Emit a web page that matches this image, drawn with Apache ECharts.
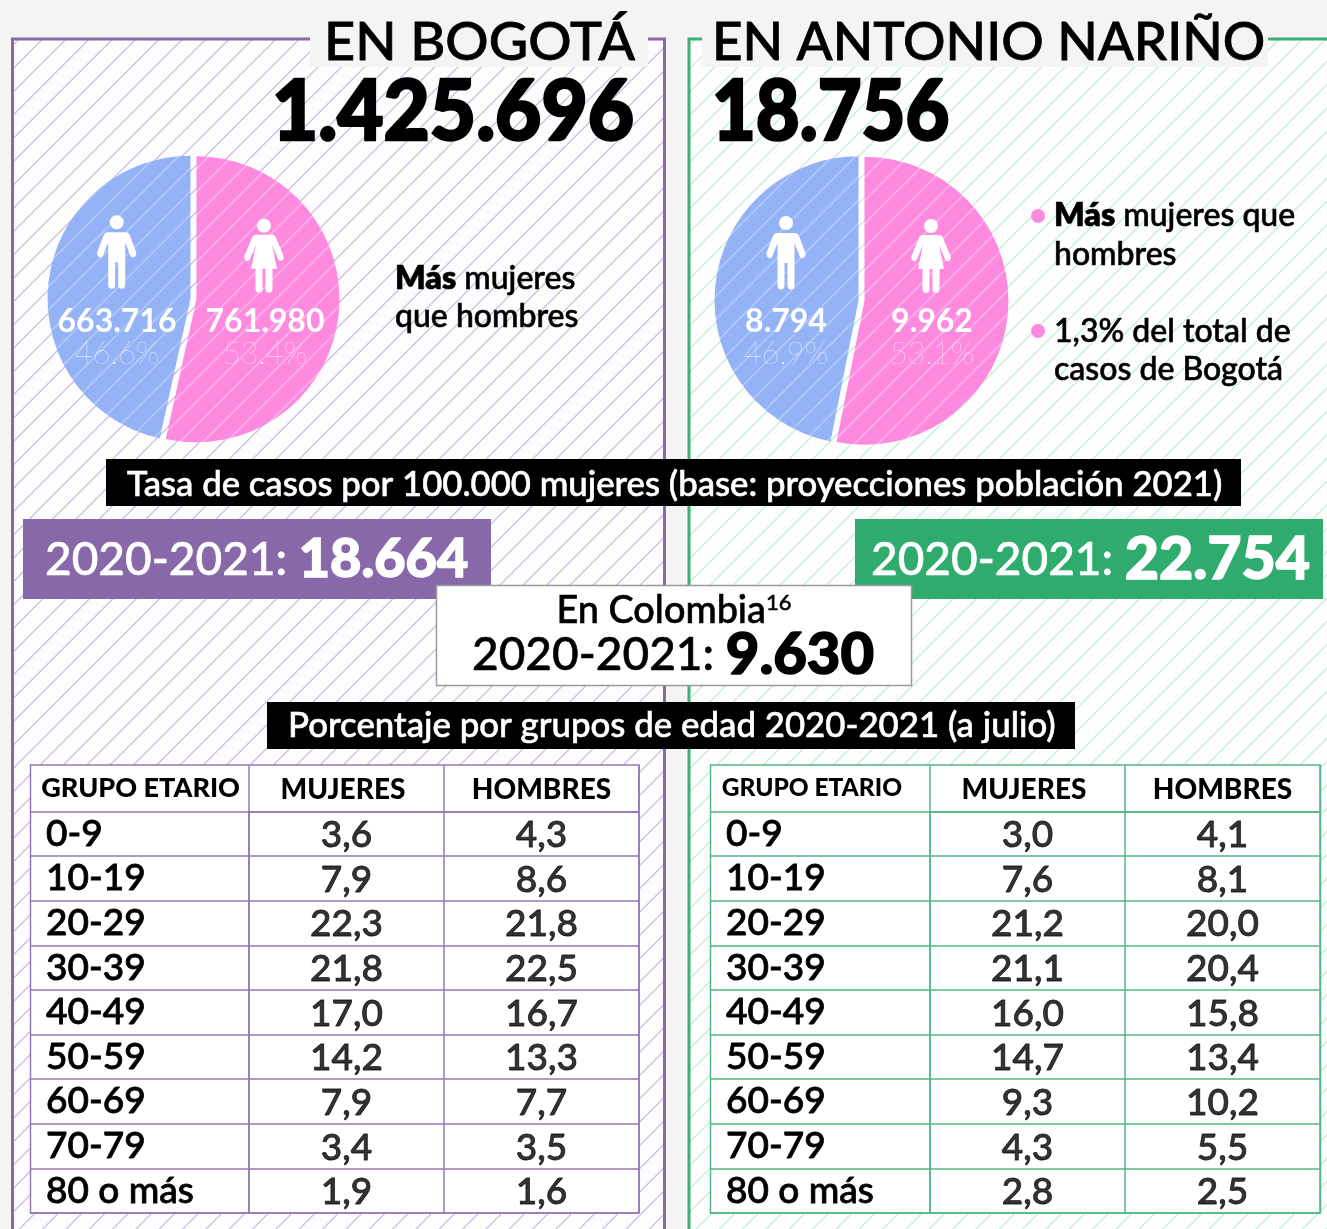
<!DOCTYPE html>
<html>
<head>
<meta charset="utf-8">
<style>html,body{margin:0;padding:0;background:#f4f4f3}#chart{width:1327px;height:1229px}</style>
<script src="https://cdn.jsdelivr.net/npm/echarts@6/dist/echarts.min.js"></script>
</head>
<body>
<div id="chart"></div>
<script>
// datos
const edades = ['0-9', '10-19', '20-29', '30-39', '40-49', '50-59', '60-69', '70-79', '80 o más'];
const columnas = ['MUJERES', 'HOMBRES'];
const bogotaMujeres = [3.6, 7.9, 22.3, 21.8, 17.0, 14.2, 7.9, 3.4, 1.9];
const bogotaHombres = [4.3, 8.6, 21.8, 22.5, 16.7, 13.3, 7.7, 3.5, 1.6];
const narinoMujeres = [3.0, 7.6, 21.2, 21.1, 16.0, 14.7, 9.3, 4.3, 2.8];
const narinoHombres = [4.1, 8.1, 20.0, 20.4, 15.8, 13.4, 10.2, 5.5, 2.5];
const casosBogota = [761980, 663716];   // mujeres, hombres
const casosNarino = [9962, 8794];
const pctBogota = [53.4, 46.6];
const pctNarino = [53.1, 46.9];
const totalBogota = 1425696;
const totalNarino = 18756;
const tasaBogota = 18664;
const tasaNarino = 22754;
const tasaColombia = 9630;

const BLUE = '#94b3f7', PINK = '#fe8ae0', PURPLE = '#8769a9', GREEN = '#2fab6e';
const LATO = 'Lato';

const miles = v => String(v).replace(/\B(?=(\d{3})+$)/g, '.');
const coma = v => v.toFixed(1).replace('.', ',');

// trama diagonal, se repite cada 70px con 3 lineas
function trama(bg, line, w) {
  const c = document.createElement('canvas');
  c.width = c.height = 70;
  const g = c.getContext('2d');
  if (bg) { g.fillStyle = bg; g.fillRect(0, 0, 70, 70); }
  g.strokeStyle = line;
  g.lineWidth = w;
  for (let k = -3; k < 7; k++) {
    const s = 11.7 + k * 70 / 3;
    g.beginPath();
    g.moveTo(-5, s + 5);
    g.lineTo(s + 5, -5);
    g.stroke();
  }
  return { image: c, repeat: 'repeat' };
}

echarts.graphic.registerShape('hombre', echarts.graphic.extendPath('M-7 0a7 7 0 1 0 14 0a7 7 0 1 0-14 0ZM-9 10L9 10Q12 10 13 13L19.5 30Q20 34 17 35Q14.5 36 13.5 33L8.5 20L8.5 62Q8.5 66.5 5 66.5Q1.5 66.5 1.5 62L1.5 40L-1.5 40L-1.5 62Q-1.5 66.5-5 66.5Q-8.5 66.5-8.5 62L-8.5 20L-13.5 33Q-14.5 36-17 35Q-20 34-19.5 30L-13 13Q-12 10-9 10Z'));
echarts.graphic.registerShape('mujer', echarts.graphic.extendPath('M-7 0a7 7 0 1 0 14 0a7 7 0 1 0-14 0ZM-8 9L8 9Q11 9 12 12L19.5 30Q20.5 34 17.5 35Q15 36 14 33L8 19L13 43L8.5 43L8.5 63Q8.5 67 5 67Q1.5 67 1.5 63L1.5 43L-1.5 43L-1.5 63Q-1.5 67-5 67Q-8.5 67-8.5 63L-8.5 43L-13 43L-8 19L-14 33Q-15 36-17.5 35Q-20.5 34-19.5 30L-12 12Q-11 9-8 9Z'));

function txt(x, y, text, size, o) {
  o = o || {};
  const fill = o.fill || '#000';
  return {
    type: 'text', x: x, y: y, z: o.z || 20, scaleX: o.sx || 1, silent: true,
    style: {
      text: text, fontFamily: LATO, fontSize: size, fontWeight: o.w || 500,
      fill: fill, align: o.align || 'left', verticalAlign: 'middle',
      stroke: o.lw === 0 ? null : fill, lineWidth: o.lw === undefined ? 0.6 : o.lw,
      rich: o.rich
    }
  };
}
function caja(x, y, w, h, fill, z, stroke) {
  return {
    type: 'rect', z: z, silent: true, shape: { x: x, y: y, width: w, height: h },
    style: { fill: fill, stroke: stroke || null, lineWidth: stroke ? 1.5 : 0 }
  };
}
function icono(tipo, x, y) {
  return { type: tipo, x: x, y: y, z: 15, silent: true, style: { fill: '#fff' } };
}
function rica(size, peso, fill, borde) {
  return { fontFamily: LATO, fontSize: size, fontWeight: peso, fill: fill, stroke: fill, lineWidth: borde };
}
function tasa(x, y, valor, sizeB) {
  return txt(x, y, '{a|2020-2021:} {b|' + miles(valor) + '}', 46, {
    z: 12, fill: '#fff',
    rich: { a: rica(46, 500, '#fff', 0.6), b: rica(sizeB, 900, '#fff', 1.5) }
  });
}

const graphics = [
  // paneles
  caja(12.5, 39, 652, 1240, '#fdfdfe', -6),
  caja(12.5, 39, 652, 1240, trama(null, '#c9b9e0', 1.2), -5),
  caja(689, 39, 700, 1240, '#fdfefd', -6),
  caja(689, 39, 700, 1240, trama(null, '#c0edd3', 1.2), -5),
  { type: 'rect', z: -4, silent: true, shape: { x: 12.5, y: 39, width: 652, height: 1240 }, style: { fill: null, stroke: PURPLE, lineWidth: 3 } },
  { type: 'rect', z: -4, silent: true, shape: { x: 689, y: 39, width: 700, height: 1240 }, style: { fill: null, stroke: '#3fae78', lineWidth: 3 } },
  caja(310, 15, 338, 52, '#f4f4f3', -3),
  caja(702, 15, 566, 52, '#f4f4f3', -3),
  // fondo de tablas
  caja(30.5, 765, 608.5, 448, '#fff', -2, '#9478b5'),
  caja(710.5, 765, 610, 448, '#fff', -2, '#52b783'),
  // titulos
  txt(324, 43, 'EN BOGOTÁ', 53, { sx: 1.02, lw: 0.8 }),
  txt(712, 43, 'EN ANTONIO NARIÑO', 53, { lw: 0.8 }),
  txt(272, 113, miles(totalBogota), 84, { w: 900, sx: 0.95, lw: 2.5 }),
  txt(712, 113, miles(totalNarino), 84, { w: 900, sx: 0.9, lw: 2.5 }),
  // iconos
  icono('hombre', 116.7, 222.3), icono('mujer', 264, 225.7),
  icono('hombre', 786, 223), icono('mujer', 931, 226),
  // texto lateral
  txt(395, 279, '{b|Más} {a|mujeres}', 32, { rich: { a: rica(32, 500, '#000', 0.6), b: rica(32, 800, '#000', 0.6) } }),
  txt(395, 317, 'que hombres', 32),
  { type: 'circle', z: 15, silent: true, shape: { cx: 1038, cy: 216, r: 7 }, style: { fill: PINK } },
  { type: 'circle', z: 15, silent: true, shape: { cx: 1038, cy: 331, r: 7 }, style: { fill: PINK } },
  txt(1054, 216, '{b|Más} {a|mujeres que}', 32, { rich: { a: rica(32, 500, '#000', 0.6), b: rica(32, 800, '#000', 0.6) } }),
  txt(1054, 255, 'hombres', 32),
  txt(1054, 332, '1,3% del total de', 32),
  txt(1054, 370, 'casos de Bogotá', 32),
  // franjas
  caja(106, 459, 1135, 47, '#000', 10),
  txt(127, 484.5, 'Tasa de casos por 100.000 mujeres (base: proyecciones población 2021)', 34.7, { fill: '#fff' }),
  caja(23, 519, 468, 80, PURPLE, 10),
  caja(855, 519, 468, 80, GREEN, 10),
  tasa(45, 560, tasaBogota, 54),
  tasa(871, 560, tasaNarino, 59),
  caja(436.5, 585.5, 475, 100, '#fff', 11, '#9a9a9a'),
  txt(674, 611, '{a|En Colombia}{s|16}', 37.8, {
    align: 'center',
    rich: {
      a: rica(37.8, 500, '#000', 0.6),
      s: { fontFamily: LATO, fontSize: 22, fontWeight: 400, fill: '#000', verticalAlign: 'top' }
    }
  }),
  txt(472, 655, '{a|2020-2021:} {b|' + miles(tasaColombia) + '}', 46, {
    rich: { a: rica(46, 500, '#000', 0.6), b: rica(58, 900, '#000', 1.5) }
  }),
  caja(267, 702, 808, 47, '#000', 10),
  txt(288, 725.5, 'Porcentaje por grupos de edad 2020-2021 (a julio)', 34.8, { fill: '#fff' })
];

// valores y porcentajes dentro de las tortas
function dentro(x, valor, pct) {
  graphics.push(txt(x, 322, miles(valor), 32, { w: 700, fill: '#fff', align: 'center', lw: 0 }));
  graphics.push(txt(x, 354, pct.toFixed(1) + '%', 31, { w: 100, fill: 'rgba(255,255,255,0.95)', align: 'center', lw: 0 }));
}
dentro(117, casosBogota[1], pctBogota[1]);
dentro(265, casosBogota[0], pctBogota[0]);
dentro(786, casosNarino[1], pctNarino[1]);
dentro(932, casosNarino[0], pctNarino[0]);

function torta(cx, cy, r, valores) {
  return {
    type: 'pie', center: [cx, cy], radius: [0, r], startAngle: 90, silent: true,
    selectedMode: 'multiple', selectedOffset: 3, label: { show: false }, labelLine: { show: false },
    emphasis: { disabled: true }, animation: false,
    data: [
      { name: 'Mujeres', value: valores[0], selected: true, itemStyle: { color: trama(PINK, 'rgba(255,255,255,0.45)', 1.2) } },
      { name: 'Hombres', value: valores[1], selected: true, itemStyle: { color: trama(BLUE, 'rgba(255,255,255,0.4)', 1.2) } }
    ]
  };
}

const grids = [], xAxes = [], yAxes = [], series = [];
function tabla(left, right, primera, color, nombre, mujeres, hombres) {
  const i = grids.length;
  const linea = { show: true, lineStyle: { color: color, width: 1.5 } };
  grids.push({ left: left, right: 1327 - right, top: 811.5, height: 401.5 });
  xAxes.push({
    gridIndex: i, type: 'category', position: 'top',
    data: [{ value: columnas[0], textStyle: { padding: [0, 7, 0, 0] } }, columnas[1]],
    axisLine: linea, splitLine: linea,
    axisTick: { show: true, length: 46, lineStyle: linea.lineStyle },
    axisLabel: { interval: 0, margin: 8, color: '#000', fontFamily: LATO, fontWeight: 900, fontSize: 28 }
  });
  yAxes.push({
    gridIndex: i, type: 'category', inverse: true, data: edades,
    name: 'GRUPO ETARIO', nameLocation: 'start', nameGap: 23, nameMoveOverlap: false,
    nameTextStyle: {
      color: '#000', fontFamily: LATO, fontWeight: 900, fontSize: nombre.size,
      align: 'right', verticalAlign: 'middle', padding: [0, nombre.pad, 0, 0]
    },
    axisLine: linea, splitLine: linea,
    axisTick: { show: true, length: primera, lineStyle: linea.lineStyle },
    axisLabel: {
      interval: 0, margin: primera - 16, align: 'left', color: '#000', fontFamily: LATO, fontWeight: 500, fontSize: 37,
      textBorderColor: '#000', textBorderWidth: 0.8, padding: [8, 0, 0, 0]
    }
  });
  [mujeres, hombres].forEach((vals, c) => {
    series.push({
      type: 'scatter', xAxisIndex: i, yAxisIndex: i, symbolSize: 1, silent: true, animation: false,
      itemStyle: { color: 'transparent' },
      label: {
        show: true, position: 'inside', offset: [0, 1.5], color: '#000', fontFamily: LATO, fontWeight: 500, fontSize: 37,
        textBorderColor: '#000', textBorderWidth: 0.8,
        formatter: p => coma(p.value[2])
      },
      data: vals.map((v, r) => [c, r, v])
    });
  });
}
tabla(249, 639, 219, '#9478b5', { size: 27, pad: 9 }, bogotaMujeres, bogotaHombres);
tabla(930, 1320, 220, '#52b783', { size: 24.5, pad: 28 }, narinoMujeres, narinoHombres);

const chart = echarts.init(document.getElementById('chart'));
chart.setOption({
  backgroundColor: '#f4f4f3',
  animation: false,
  grid: grids, xAxis: xAxes, yAxis: yAxes,
  series: series.concat([
    torta(193.5, 299, 143, casosBogota),
    torta(861.5, 300.5, 144, casosNarino)
  ]),
  graphic: { elements: graphics }
});
</script>
</body>
</html>
